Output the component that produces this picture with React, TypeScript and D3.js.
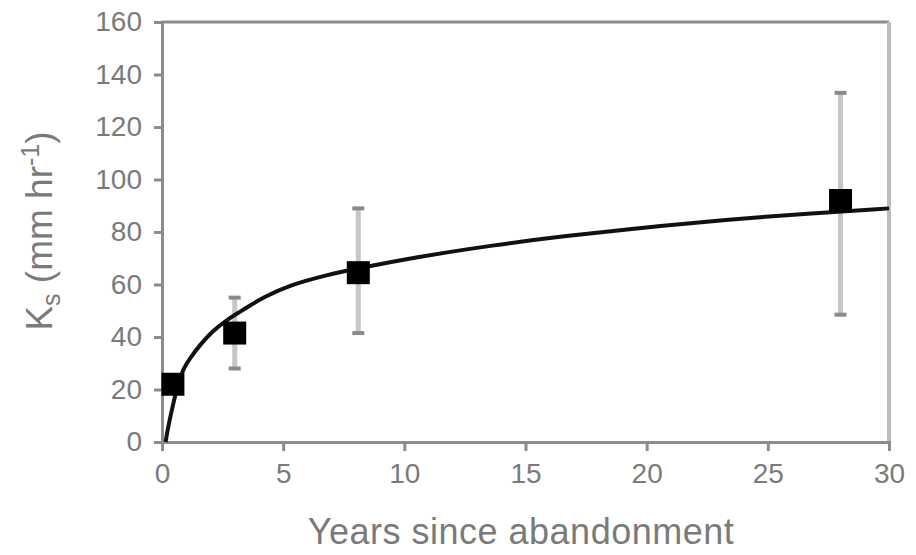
import React, { useEffect, useRef } from 'react';
import * as d3 from 'd3';

// measured points (mean and error bar ends)
const years = [0.45, 3, 8.1, 28];
const ksMean = [22, 41.5, 64.5, 92];
const ksLow = [19, 28, 41.5, 48.5];
const ksHigh = [25, 55, 89, 133];

// fitted curve
const fitYears = [0.15, 0.25, 0.45, 0.65, 0.88, 1.16, 1.57, 2.05, 2.67, 3.22, 3.63, 4.17, 5.28, 6.8, 8, 10.5, 13.7, 16.5, 19.9, 23.2, 26.9, 30];
const fitKs = [0, 5.7, 14, 22, 28, 32, 37, 42, 46.5, 49.6, 52, 55, 59.8, 63.6, 66, 70.5, 75, 78.4, 81.7, 84.6, 87.2, 89];

const xTicks = [0, 5, 10, 15, 20, 25, 30];
const yTicks = [0, 20, 40, 60, 80, 100, 120, 140, 160];

const W = 916;
const H = 555;
const left = 162;
const right = 889;
const top = 22;
const bottom = 442;
const font = '"Liberation Sans", Arial, sans-serif';
const axisGray = '#8c8c8c';
const textGray = '#7a7a7a';

function KsChart() {
  const ref = useRef<SVGSVGElement | null>(null);

  useEffect(() => {
    const svg = d3.select(ref.current);
    svg.selectAll('*').remove();

    const x = d3.scaleLinear().domain([0, 30]).range([left, right]);
    const y = d3.scaleLinear().domain([0, 160]).range([bottom, top]);

    // frame: top and right
    svg.append('line')
      .attr('x1', left).attr('x2', right).attr('y1', top).attr('y2', top)
      .style('stroke', axisGray).style('stroke-width', 3);
    svg.append('line')
      .attr('x1', right).attr('x2', right).attr('y1', top).attr('y2', bottom)
      .style('stroke', '#bdbdbd').style('stroke-width', 4);

    // y axis
    const yAxis = svg.append('g')
      .attr('transform', `translate(${left},0)`)
      .call(d3.axisLeft(y).tickValues(yTicks).tickSize(8).tickPadding(12).tickFormat(d3.format('d')));
    yAxis.select('.domain').style('stroke', axisGray).style('stroke-width', 3);
    yAxis.selectAll('.tick line').style('stroke', axisGray).style('stroke-width', 3);
    yAxis.selectAll('.tick text')
      .style('font-family', font).style('font-size', '28px').style('fill', textGray);

    // x axis
    const xAxis = svg.append('g')
      .attr('transform', `translate(0,${bottom})`)
      .call(d3.axisBottom(x).tickValues(xTicks).tickSize(9).tickPadding(12).tickFormat(d3.format('d')));
    xAxis.select('.domain').style('stroke', axisGray).style('stroke-width', 3);
    xAxis.selectAll('.tick line').style('stroke', axisGray).style('stroke-width', 3);
    xAxis.selectAll('.tick text')
      .style('font-family', font).style('font-size', '28px').style('fill', textGray);

    // error bars
    const err = svg.append('g');
    years.forEach((yr, i) => {
      err.append('line')
        .attr('x1', x(yr)).attr('x2', x(yr))
        .attr('y1', y(ksLow[i])).attr('y2', y(ksHigh[i]))
        .style('stroke', '#c6c6c6').style('stroke-width', 5);
      [ksLow[i], ksHigh[i]].forEach(v => {
        err.append('line')
          .attr('x1', x(yr) - 6).attr('x2', x(yr) + 6)
          .attr('y1', y(v)).attr('y2', y(v))
          .style('stroke', '#8a8a8a').style('stroke-width', 4);
      });
    });

    // fitted curve
    const line = d3.line<number>()
      .x((d, i) => x(fitYears[i]))
      .y(d => y(d))
      .curve(d3.curveBasis);
    svg.append('path')
      .datum(fitKs)
      .attr('d', line)
      .style('fill', 'none')
      .style('stroke', '#111')
      .style('stroke-width', 4);

    // markers
    const sz = 23;
    svg.append('g').selectAll('rect')
      .data(ksMean)
      .enter()
      .append('rect')
      .attr('x', (d, i) => x(years[i]) - sz / 2)
      .attr('y', d => y(d) - sz / 2)
      .attr('width', sz)
      .attr('height', sz)
      .style('fill', '#000');

    // axis titles
    svg.append('text')
      .attr('x', 521)
      .attr('y', 544)
      .style('font-family', font)
      .style('font-size', '36px')
      .style('letter-spacing', '0.5px')
      .style('fill', textGray)
      .style('text-anchor', 'middle')
      .text('Years since abandonment');

    const yt = svg.append('text')
      .attr('transform', 'translate(52,231) rotate(-90)')
      .style('font-family', font)
      .style('font-size', '37px')
      .style('fill', textGray)
      .style('text-anchor', 'middle');
    yt.append('tspan').text('K');
    yt.append('tspan').attr('dy', 8).style('font-size', '25px').text('s');
    yt.append('tspan').attr('dy', -8).text(' (mm hr');
    yt.append('tspan').attr('dy', -13).style('font-size', '25px').text('-1');
    yt.append('tspan').attr('dy', 13).text(')');
  }, []);

  return <svg ref={ref} width={W} height={H} style={{ position: 'absolute', left: 0, top: 0, background: '#fff' }}></svg>;
}

export default function App() {
  return <KsChart />;
}
